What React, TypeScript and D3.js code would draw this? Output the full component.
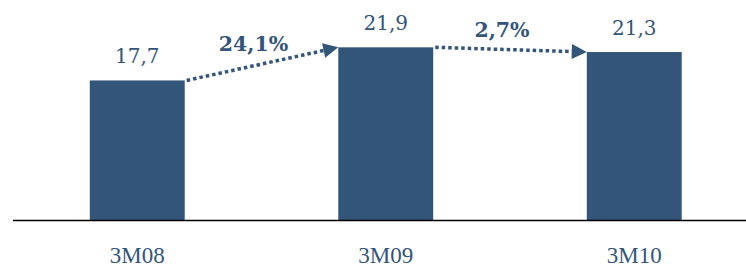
import React from "react";
import * as d3 from "d3";

const categories = ["3M08", "3M09", "3M10"];
const values = [17.7, 21.9, 21.3];
const valueLabels = ["17,7", "21,9", "21,3"];
const changeLabels = ["24,1%", "2,7%"];

const W = 746;
const H = 267;
const COLOR = "#33557A";

export default function App() {
  const x = d3
    .scaleBand<string>()
    .domain(categories)
    .range([13, 758.5])
    .paddingInner(0.618)
    .paddingOuter(0.309);
  const y = d3.scaleLinear().domain([0, 27.9]).range([220, 0]);
  const bw = x.bandwidth();

  const arrows = changeLabels.map((lab, i) => {
    const x1 = (x(categories[i]) as number) + bw + 2;
    const y1 = y(values[i]);
    const x2 = (x(categories[i + 1]) as number);
    const y2 = y(values[i + 1]);
    const ang = Math.atan2(y2 - y1, x2 - x1);
    const headLen = 15;
    const headW = 7.5;
    const bx = x2 - headLen * Math.cos(ang);
    const by = y2 - headLen * Math.sin(ang);
    const px = -Math.sin(ang);
    const py = Math.cos(ang);
    const head = [
      [x2, y2],
      [bx + px * headW, by + py * headW],
      [bx - px * headW, by - py * headW],
    ];
    return { lab, x1, y1, x2: bx, y2: by, head, mx: (x1 + x2) / 2, my: (y1 + y2) / 2 };
  });

  return (
    <svg
      width={W}
      height={H}
      style={{ position: "absolute", left: 0, top: 0, display: "block", background: "#fff" }}
    >
      {categories.map((c, i) => (
        <rect
          key={c}
          x={x(c)}
          y={y(values[i])}
          width={bw}
          height={y(0) - y(values[i])}
          fill={COLOR}
        />
      ))}
      <line x1={13} x2={746} y1={220.5} y2={220.5} stroke="#000" strokeWidth={1.5} />
      {categories.map((c, i) => (
        <text
          key={"v" + c}
          x={(x(c) as number) + bw / 2}
          y={y(values[i]) - 17}
          textAnchor="middle"
          fontFamily="DejaVu Serif"
          fontSize={20}
          fill={COLOR}
        >
          {valueLabels[i]}
        </text>
      ))}
      {categories.map((c) => (
        <text
          key={"c" + c}
          x={(x(c) as number) + bw / 2}
          y={263}
          textAnchor="middle"
          fontFamily="Liberation Serif"
          fontSize={23}
          fill={COLOR}
        >
          {c}
        </text>
      ))}
      {arrows.map((a) => (
        <g key={a.lab}>
          <line
            x1={a.x1}
            y1={a.y1}
            x2={a.x2}
            y2={a.y2}
            stroke={COLOR}
            strokeWidth={3.5}
            strokeDasharray="3.5 3"
          />
          <polygon points={a.head.map((p) => p.join(",")).join(" ")} fill={COLOR} />
          <text
            x={a.mx - 9}
            y={a.my - 13}
            textAnchor="middle"
            fontFamily="DejaVu Serif"
            fontWeight="bold"
            fontSize={20.5}
            fill={COLOR}
          >
            {a.lab}
          </text>
        </g>
      ))}
    </svg>
  );
}
